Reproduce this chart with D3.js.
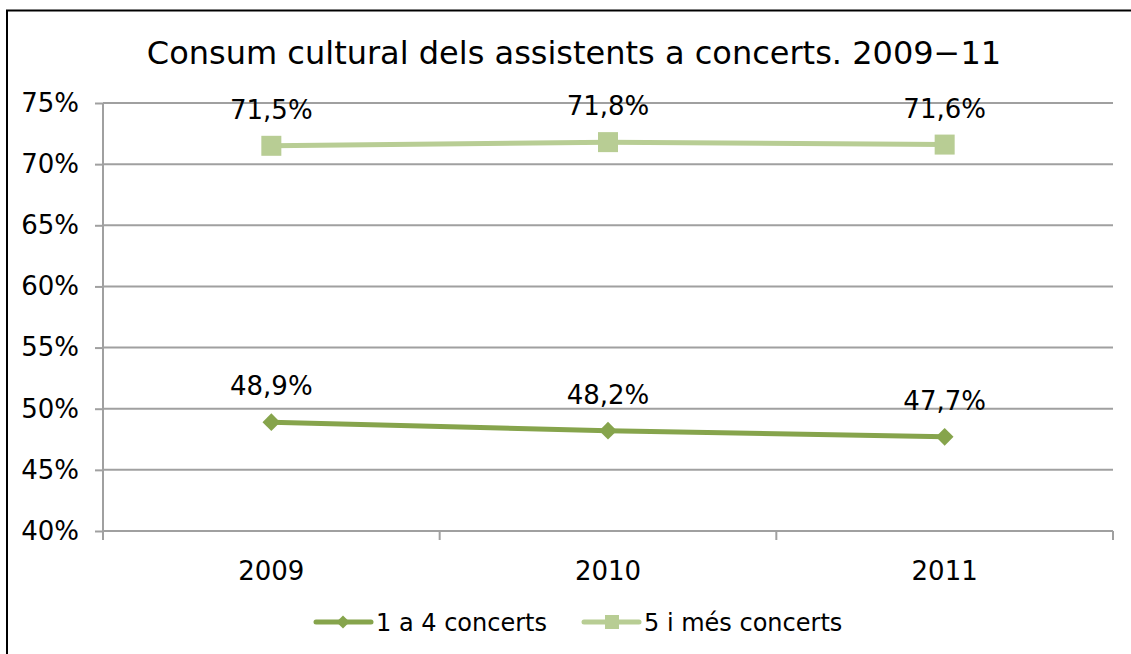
<!DOCTYPE html>
<html>
<head>
<meta charset="utf-8">
<script src="https://cdn.jsdelivr.net/npm/d3@7"></script>
<style>
  html, body { margin: 0; padding: 0; background: #fff; }
  svg { display: block; font-family: "DejaVu Sans", Verdana, sans-serif; }
</style>
</head>
<body>
<svg id="chart" width="1131" height="654"></svg>
<script>
// Chart data
const years = ["2009", "2010", "2011"];
const seriesNames = ["1 a 4 concerts", "5 i més concerts"];
const few = [48.9, 48.2, 47.7];
const many = [71.5, 71.8, 71.6];
const yTicks = [40, 45, 50, 55, 60, 65, 70, 75];

const title = "Consum cultural dels assistents a concerts. 2009\u221211";
const colors = ["#86A44C", "#B8CD94"];
const FS = 26;

const svg = d3.select("#chart");
const W = 1131, H = 654;
const plot = { left: 103, right: 1113, top: 103, bottom: 531 };

// outer frame
svg.append("rect")
  .attr("x", 7).attr("y", 10.5)
  .attr("width", W + 20).attr("height", H + 20)
  .attr("fill", "none").attr("stroke", "#000").attr("stroke-width", 2);

svg.append("text")
  .attr("x", 574).attr("y", 64)
  .attr("text-anchor", "middle")
  .attr("font-size", 32)
  .attr("fill", "#000")
  .text(title);

const x = d3.scaleBand().domain(years).range([plot.left, plot.right]).padding(0);
const y = d3.scaleLinear().domain([40, 75]).range([plot.bottom, plot.top]);
const cx = d => x(d) + x.bandwidth() / 2;

// horizontal gridlines
svg.append("g").selectAll("line").data(yTicks.filter(t => t > 40)).join("line")
  .attr("x1", plot.left).attr("x2", plot.right)
  .attr("y1", d => y(d)).attr("y2", d => y(d))
  .attr("stroke", "#A0A0A0").attr("stroke-width", 2);

// y axis
const yAxis = d3.axisLeft(y).tickValues(yTicks).tickSize(8).tickPadding(16)
  .tickFormat(d => d + "%");
const gy = svg.append("g").attr("transform", `translate(${plot.left},0)`).call(yAxis);
gy.select(".domain").attr("stroke", "#A0A0A0").attr("stroke-width", 2)
  .attr("d", `M0,${plot.top}V${plot.bottom}`);
gy.selectAll(".tick line").attr("stroke", "#A0A0A0").attr("stroke-width", 2);
gy.selectAll(".tick text").attr("font-size", FS).attr("fill", "#000")
  .attr("font-family", "DejaVu Sans, Verdana, sans-serif");

// x axis with tick marks at category boundaries
const gx = svg.append("g").attr("transform", `translate(0,${plot.bottom})`);
gx.append("line").attr("x1", plot.left).attr("x2", plot.right)
  .attr("stroke", "#A0A0A0").attr("stroke-width", 2);
const bounds = years.map(d => x(d)).concat([plot.right]);
gx.selectAll("line.tk").data(bounds).join("line").attr("class", "tk")
  .attr("x1", d => d).attr("x2", d => d).attr("y1", 0).attr("y2", 9)
  .attr("stroke", "#A0A0A0").attr("stroke-width", 2);
gx.selectAll("text").data(years).join("text")
  .attr("x", d => cx(d)).attr("y", 49)
  .attr("text-anchor", "middle").attr("font-size", FS).attr("fill", "#000")
  .text(d => d);

const line = d3.line().x((d, i) => cx(years[i])).y(d => y(d));
const fmt = v => d3.format(".1f")(v).replace(".", ",") + "%";

// series 1: diamonds
svg.append("path").datum(few).attr("d", line)
  .attr("fill", "none").attr("stroke", colors[0]).attr("stroke-width", 5);
svg.selectAll("path.dia").data(few).join("path").attr("class", "dia")
  .attr("d", d3.symbol(d3.symbolDiamond2, 200)())
  .attr("transform", (d, i) => `translate(${cx(years[i])},${y(d)})`)
  .attr("fill", colors[0]);

// series 2: squares
svg.append("path").datum(many).attr("d", line)
  .attr("fill", "none").attr("stroke", colors[1]).attr("stroke-width", 5);
svg.selectAll("rect.sq").data(many).join("rect").attr("class", "sq")
  .attr("x", (d, i) => cx(years[i]) - 10).attr("y", d => y(d) - 10)
  .attr("width", 20).attr("height", 20)
  .attr("fill", colors[1]);

// value labels
[few, many].forEach(vals => {
  svg.append("g").selectAll("text").data(vals).join("text")
    .attr("x", (d, i) => cx(years[i])).attr("y", d => y(d) - 27)
    .attr("text-anchor", "middle").attr("font-size", FS).attr("fill", "#000")
    .text(d => fmt(d));
});

// legend
const leg = svg.append("g");
const items = [
  { name: seriesNames[0], color: colors[0], x0: 316, shape: "diamond" },
  { name: seriesNames[1], color: colors[1], x0: 584, shape: "square" }
];
const ly = 622;
items.forEach(it => {
  leg.append("line").attr("x1", it.x0).attr("x2", it.x0 + 55)
    .attr("y1", ly).attr("y2", ly)
    .attr("stroke", it.color).attr("stroke-width", 5).attr("stroke-linecap", "round");
  if (it.shape === "diamond") {
    leg.append("path").attr("d", d3.symbol(d3.symbolDiamond2, 110)())
      .attr("transform", `translate(${it.x0 + 27},${ly})`).attr("fill", it.color);
  } else {
    leg.append("rect").attr("x", it.x0 + 21).attr("y", ly - 7)
      .attr("width", 14).attr("height", 14).attr("fill", it.color);
  }
  leg.append("text").attr("x", it.x0 + 60).attr("y", ly + 9)
    .attr("font-size", 24).attr("fill", "#000").text(it.name);
});
</script>
</body>
</html>
